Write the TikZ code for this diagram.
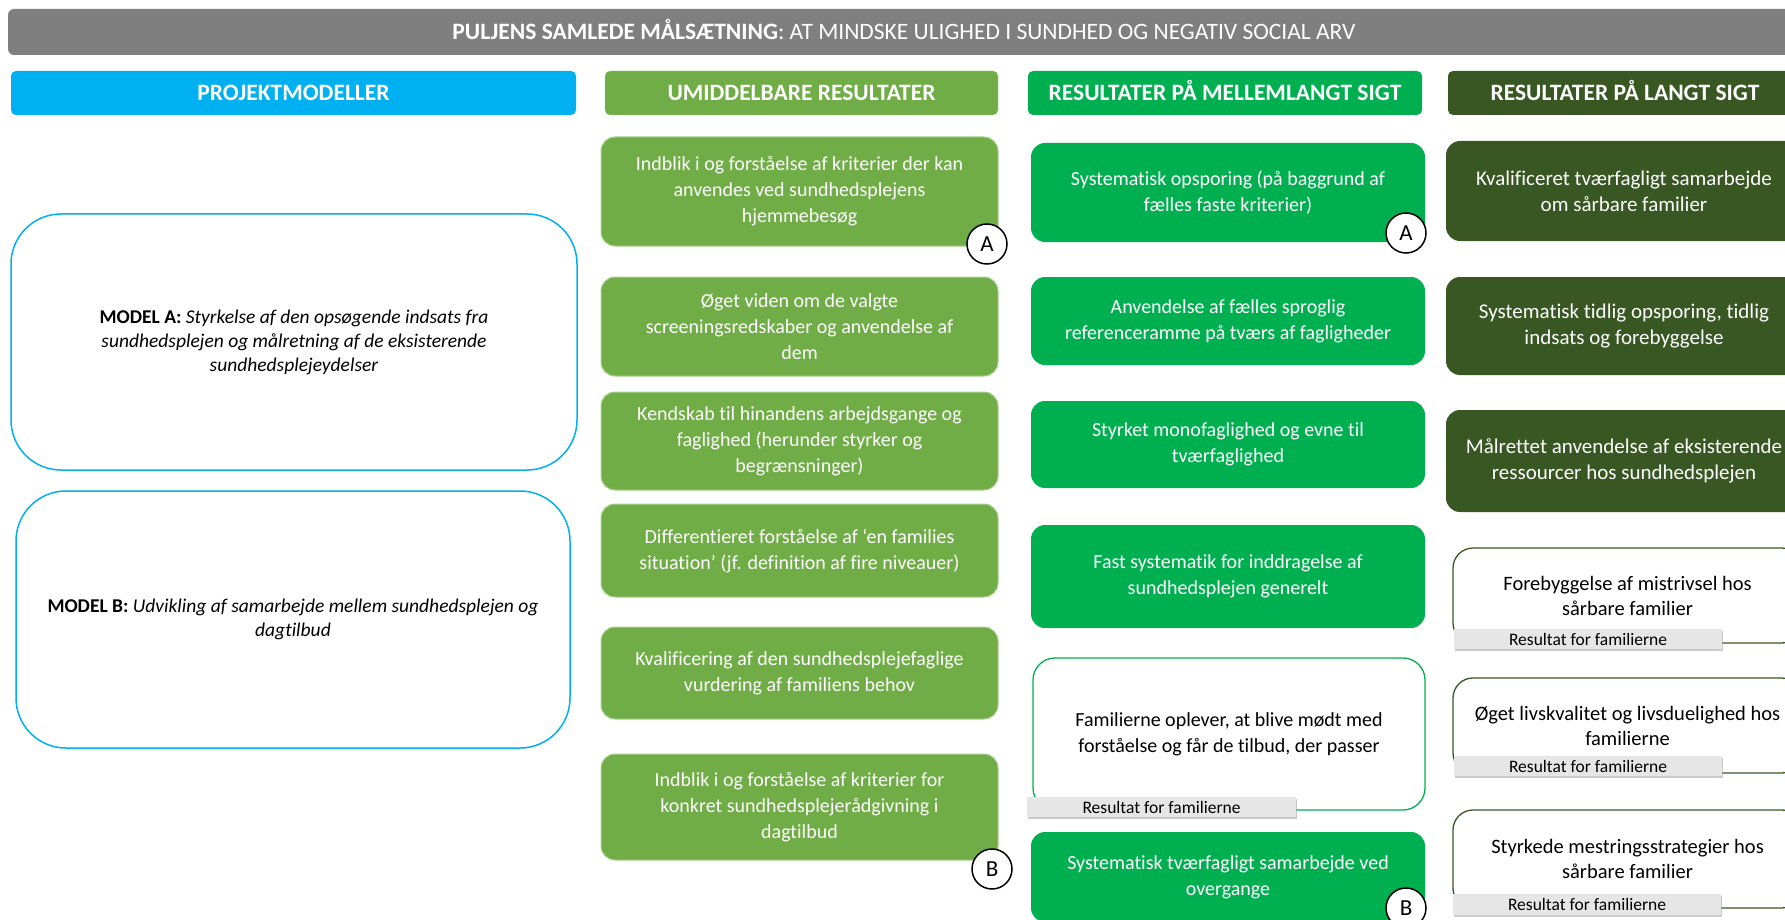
\documentclass[tikz,border=0pt]{standalone}
\usepackage{fontspec}
\setmainfont{Carlito}[Ligatures=NoCommon]
\usetikzlibrary{shadows}

\definecolor{titlegray}{HTML}{7F7F7F}
\definecolor{projblue}{HTML}{00B0F0}
\definecolor{umidgreen}{HTML}{70AD47}
\definecolor{umidedge}{HTML}{A9D18E}
\definecolor{mellgreen}{HTML}{00B050}
\definecolor{langgreen}{HTML}{385723}
\definecolor{labelgray}{HTML}{E7E6E6}

\tikzset{
  titlebar/.style={fill=titlegray, rounded corners=6pt, text=white, minimum width=1792pt, minimum height=46pt, inner sep=0pt, text height=15pt, text depth=0pt, font=\fontsize{23.5}{26}\selectfont},
  hdr/.style={rounded corners=5pt, text=white, minimum height=44pt, inner sep=0pt, text height=15pt, text depth=0pt, font=\bfseries\fontsize{23.5}{26}\selectfont},
  model/.style={draw=projblue, line width=1.5pt, fill=white, rounded corners=50pt, align=center, inner sep=0pt, font=\fontsize{19.5}{24}\selectfont},
  res/.style={rounded corners=14pt, align=center, inner sep=0pt, font=\fontsize{20}{26}\selectfont},
  umid/.style={res, fill=umidgreen, draw=umidedge, line width=1pt, text=white, minimum width=397pt},
  mell/.style={res, fill=mellgreen, text=white, minimum width=394pt},
  lang/.style={res, fill=langgreen, text=white, minimum width=356pt, font=\fontsize{21}{26}\selectfont},
  fammell/.style={res, fill=white, draw=mellgreen, line width=1.3pt, rounded corners=22pt, minimum width=392pt},
  famlang/.style={res, fill=white, draw=langgreen, line width=1.3pt, rounded corners=20pt, minimum width=349pt, font=\fontsize{20.5}{25}\selectfont},
  famlabel/.style={fill=labelgray, minimum width=268pt, minimum height=20pt, inner sep=0pt, font=\fontsize{17.5}{18}\selectfont, drop shadow={shadow xshift=1pt, shadow yshift=-1.5pt, fill=black!35, opacity=0.6}},
  modelmark/.style={circle, draw=black, fill=white, line width=1.5pt, minimum size=40pt, inner sep=0pt, font=\fontsize{23}{24}\selectfont}
}

\begin{document}
\begin{tikzpicture}[x=1pt,y=-1pt]
\useasboundingbox (0,0) rectangle (1785,920);
\clip (0,0) rectangle (1785,920);

% overall goal
\node[titlebar] (goal) at (904,32) {\textbf{PULJENS SAMLEDE MÅLSÆTNING}: AT MINDSKE ULIGHED I SUNDHED OG NEGATIV SOCIAL ARV};

% column headers
\node[hdr, fill=projblue, minimum width=565pt] (hproj) at (293.5,93) {PROJEKTMODELLER};
\node[hdr, fill=umidgreen, draw=umidedge, minimum width=393pt] (humid) at (801.5,93) {UMIDDELBARE RESULTATER};
\node[hdr, fill=mellgreen, minimum width=394pt] (hmell) at (1225,93) {RESULTATER PÅ MELLEMLANGT SIGT};
\node[hdr, fill=langgreen, minimum width=354pt] (hlang) at (1625,93) {RESULTATER PÅ LANGT SIGT};

% project models
\node[model, minimum width=566pt, minimum height=256pt] (modA) at (294,342)
  {\textbf{MODEL A:} \textit{Styrkelse af den opsøgende indsats fra}\\ \textit{sundhedsplejen og målretning af de eksisterende}\\ \textit{sundhedsplejeydelser}};
\node[model, minimum width=554pt, minimum height=257pt] (modB) at (293,619.5)
  {\textbf{MODEL B:} \textit{Udvikling af samarbejde mellem sundhedsplejen og}\\ \textit{dagtilbud}};

% immediate results
\node[umid, minimum height=109pt] (u1) at (799.5,191.5) {Indblik i og forståelse af kriterier der kan\\ anvendes ved sundhedsplejens\\ hjemmebesøg};
\node[umid, minimum height=99pt] (u2) at (799.5,326.5) {Øget viden om de valgte\\ screeningsredskaber og anvendelse af\\ dem};
\node[umid, minimum height=98pt] (u3) at (799.5,441) {Kendskab til hinandens arbejdsgange og\\ faglighed (herunder styrker og\\ begrænsninger)};
\node[umid, minimum height=93pt] (u4) at (799.5,550.5) {Differentieret forståelse af ‘en families\\ situation’ (jf. definition af fire niveauer)};
\node[umid, minimum height=92pt] (u5) at (799.5,673) {Kvalificering af den sundhedsplejefaglige\\ vurdering af familiens behov};
\node[umid, minimum height=106pt] (u6) at (799.5,807) {Indblik i og forståelse af kriterier for\\ konkret sundhedsplejerådgivning i\\ dagtilbud};

% medium term results
\node[mell, minimum height=99pt] (m1) at (1228,192.5) {Systematisk opsporing (på baggrund af\\ fælles faste kriterier)};
\node[mell, minimum height=88pt] (m2) at (1228,321) {Anvendelse af fælles sproglig\\ referenceramme på tværs af fagligheder};
\node[mell, minimum height=87pt] (m3) at (1228,444.5) {Styrket monofaglighed og evne til\\ tværfaglighed};
\node[mell, minimum height=103pt] (m4) at (1228,576.5) {Fast systematik for inddragelse af\\ sundhedsplejen generelt};
\node[fammell, minimum height=152pt] (m5) at (1229,734) {Familierne oplever, at blive mødt med\\ forståelse og får de tilbud, der passer};
\node[famlabel, minimum width=269pt] (m5lab) at (1161.5,807) {Resultat for familierne};
\node[mell, minimum height=90pt] (m6) at (1228,877) {Systematisk tværfagligt samarbejde ved\\ overgange};

% long term results
\node[lang, minimum height=100pt] (l1) at (1624,191) {Kvalificeret tværfagligt samarbejde\\ om sårbare familier};
\node[lang, minimum height=98pt] (l2) at (1624,326) {Systematisk tidlig opsporing, tidlig\\ indsats og forebyggelse};
\node[lang, minimum height=102pt] (l3) at (1624,461) {Målrettet anvendelse af eksisterende\\ ressourcer hos sundhedsplejen};
\node[famlang, minimum height=95pt] (l4) at (1627.5,595.5) {Forebyggelse af mistrivsel hos\\ sårbare familier};
\node[famlabel] (l4lab) at (1588,639) {Resultat for familierne};
\node[famlang, minimum height=95pt] (l5) at (1627.5,725.5) {Øget livskvalitet og livsduelighed hos\\ familierne};
\node[famlabel] (l5lab) at (1588,766) {Resultat for familierne};
\node[famlang, minimum height=98pt] (l6) at (1627.5,859) {Styrkede mestringsstrategier hos\\ sårbare familier};
\node[famlabel, minimum height=21pt] (l6lab) at (1587,904.5) {Resultat for familierne};

% model markers
\node[modelmark] (a2) at (987,244) {A};
\node[modelmark] (b2) at (992,869) {B};
\node[modelmark] (a3) at (1406,233) {A};
\node[modelmark] (b3) at (1406,908) {B};
\end{tikzpicture}
\end{document}
